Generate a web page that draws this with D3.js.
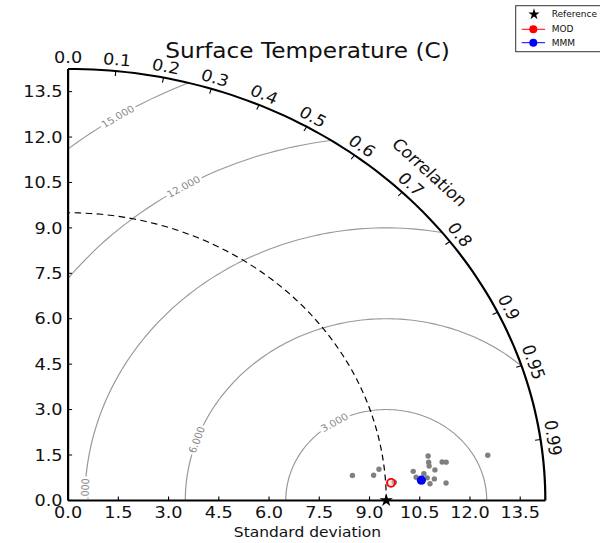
<!DOCTYPE html>
<html><head><meta charset="utf-8">
<script src="https://cdn.jsdelivr.net/npm/d3@7"></script>
<style>body{margin:0;background:#fff} text{font-family:"DejaVu Sans",sans-serif}</style>
</head>
<body><svg id="c" width="600" height="543"></svg>
<script>
// ---------- data ----------
const title = "Surface Temperature (C)";
const xLabel = "Standard deviation";
const corrLabel = "Correlation";
const stdTicks = [0, 1.5, 3.0, 4.5, 6.0, 7.5, 9.0, 10.5, 12.0, 13.5];
const corrTicks = [0, 0.1, 0.2, 0.3, 0.4, 0.5, 0.6, 0.7, 0.8, 0.9, 0.95, 0.99];
const rmsLevels = [3, 6, 9, 12, 15];
const refStd = 9.5;
const modelStd  = [8.53, 9.16, 9.34, 9.76, 10.35, 10.42, 10.66, 10.85, 10.84, 10.84, 11.00, 10.96, 10.82, 11.24, 11.36, 11.30, 12.62, 10.75];
const modelCorr = [0.9953, 0.9959, 0.9939, 0.9981, 0.9957, 0.9973, 0.9966, 0.9908, 0.9932, 0.9945, 0.9958, 0.9979, 0.9987, 0.9936, 0.9938, 0.9987, 0.9930, 0.9976];
const modStd = [9.66], modCorr = [0.9982];
const mmmStd = [10.57], mmmCorr = [0.9980];
const legendNames = ["Reference", "MOD", "MMM"];

// ---------- layout ----------
const SX = 1.106;               // horizontal stretch of the picture
const rmax = 14.25, k = 30.28, ox = 61.57, oy = 500.4;
const svg = d3.select("#c");
const g = svg.append("g").attr("transform", `scale(${SX},1)`);
const x = d3.scaleLinear().domain([0, rmax]).range([ox, ox + rmax * k]);
const y = d3.scaleLinear().domain([0, rmax]).range([oy, oy - rmax * k]);
const P = (r, t) => [x(r * Math.cos(t)), y(r * Math.sin(t))];
const line = d3.line();

// clip quarter disk
const quarter = [[x(0), y(0)]].concat(d3.range(0, 91).map(d => P(rmax, d * Math.PI / 180)));
g.append("clipPath").attr("id", "qc").append("path").attr("d", line(quarter) + "Z");

// RMS contours
const cg = g.append("g").attr("clip-path", "url(#qc)");
rmsLevels.forEach(L => {
  const pts = d3.range(0, 181).map(d => {
    const a = d * Math.PI / 180;
    return [x(refStd + L * Math.cos(a)), y(L * Math.sin(a))];
  });
  cg.append("path").attr("d", line(pts)).attr("fill", "none").attr("stroke", "#999").attr("stroke-width", 1.1);
});
const labelAngle = {3: 121, 6: 160.5, 9: 178.2, 12: 120.3, 15: 122.3};
rmsLevels.forEach(L => {
  const a = labelAngle[L] * Math.PI / 180;
  const px = x(refStd + L * Math.cos(a)), py = y(L * Math.sin(a));
  cg.append("text").attr("transform", `translate(${px},${py}) rotate(${-(labelAngle[L] - 90)})`)
    .attr("text-anchor", "middle").attr("dominant-baseline", "central")
    .attr("font-size", 9.5).attr("fill", "#8a8a8a")
    .attr("stroke", "#fff").attr("stroke-width", 5).attr("paint-order", "stroke")
    .text(L.toFixed(3));
});

// reference dashed arc
g.append("path").attr("d", line(d3.range(0, 91).map(d => P(refStd, d * Math.PI / 180))))
  .attr("fill", "none").attr("stroke", "#000").attr("stroke-width", 1.1).attr("stroke-dasharray", "6,4");

// axes
g.append("path").attr("d", line(d3.range(0, 91).map(d => P(rmax, d * Math.PI / 180))))
  .attr("fill", "none").attr("stroke", "#000").attr("stroke-width", 2);
g.append("line").attr("x1", x(0)).attr("y1", y(0)).attr("x2", x(rmax)).attr("y2", y(0)).attr("stroke", "#000").attr("stroke-width", 2);
g.append("line").attr("x1", x(0)).attr("y1", y(0)).attr("x2", x(0)).attr("y2", y(rmax)).attr("stroke", "#000").attr("stroke-width", 2);

stdTicks.forEach(t => {
  g.append("line").attr("x1", x(t)).attr("x2", x(t)).attr("y1", y(0)).attr("y2", y(0) - 4).attr("stroke", "#000");
  g.append("line").attr("y1", y(t)).attr("y2", y(t)).attr("x1", x(0)).attr("x2", x(0) + 4 / SX).attr("stroke", "#000");
  g.append("text").attr("x", x(t)).attr("y", y(0) + 18).attr("text-anchor", "middle")
    .attr("font-size", 16).attr("fill", "#111").text(t.toFixed(1));
  g.append("text").attr("x", x(0) - 5).attr("y", y(t)).attr("text-anchor", "end").attr("dominant-baseline", "central")
    .attr("font-size", 16).attr("fill", "#111").text(t.toFixed(1));
});

corrTicks.forEach(c => {
  const t = Math.acos(c);
  const a = P(rmax, t), b = P(rmax - 5 / k, t), l = P(rmax + 11.5 / k, t);
  g.append("line").attr("x1", a[0]).attr("y1", a[1]).attr("x2", b[0]).attr("y2", b[1]).attr("stroke", "#000");
  g.append("text").attr("transform", `translate(${l[0]},${l[1]}) rotate(${90 - t * 180 / Math.PI})`)
    .attr("text-anchor", "middle").attr("dominant-baseline", "central")
    .attr("font-size", 16).attr("fill", "#111").text(String(c === 0 ? "0.0" : c));
});

// axis titles
const cl = P(15.3, 45.1 * Math.PI / 180);
g.append("text").attr("transform", `translate(${cl[0]},${cl[1]}) rotate(45)`)
  .attr("text-anchor", "middle").attr("dominant-baseline", "central").attr("font-size", 16).attr("fill", "#111").text(corrLabel);
g.append("text").attr("x", 278).attr("y", 537).attr("text-anchor", "middle").attr("font-size", 14).attr("fill", "#111").text(xLabel);
g.append("text").attr("x", 278).attr("y", 58).attr("text-anchor", "middle").attr("font-size", 21).attr("fill", "#111").text(title);

// points
const pg = g.append("g");
modelStd.forEach((s, i) => {
  const p = P(s, Math.acos(modelCorr[i]));
  pg.append("ellipse").attr("cx", p[0]).attr("cy", p[1]).attr("rx", 2.7 / SX).attr("ry", 2.7).attr("fill", "#808080");
});
modStd.forEach((s, i) => {
  const p = P(s, Math.acos(modCorr[i]));
  pg.append("ellipse").attr("cx", p[0]).attr("cy", p[1]).attr("rx", 4 / SX).attr("ry", 4).attr("fill", "#f3c9c9").attr("fill-opacity", 0.5).attr("stroke", "red").attr("stroke-width", 1.8);
});
mmmStd.forEach((s, i) => {
  const p = P(s, Math.acos(mmmCorr[i]));
  pg.append("ellipse").attr("cx", p[0]).attr("cy", p[1]).attr("rx", 4.6 / SX).attr("ry", 4.6).attr("fill", "blue");
});
const rp = P(refStd, 0);
pg.append("path").attr("d", d3.symbol(d3.symbolStar, 55)()).attr("transform", `translate(${rp[0]},${rp[1]}) scale(${1 / SX},1)`).attr("fill", "#000");

// legend
const lg = svg.append("g");
lg.append("rect").attr("x", 515.7).attr("y", 5.7).attr("width", 120).attr("height", 46).attr("fill", "#fff").attr("stroke", "#333").attr("stroke-width", 1);
const ly = [14.3, 29.3, 42.7];
lg.append("path").attr("d", d3.symbol(d3.symbolStar, 40)()).attr("transform", `translate(534,${ly[0]})`).attr("fill", "#000");
[["red", ly[1]], ["blue", ly[2]]].forEach(([col, yy]) => {
  lg.append("line").attr("x1", 521.7).attr("x2", 545).attr("y1", yy).attr("y2", yy).attr("stroke", col).attr("stroke-width", 1);
  lg.append("circle").attr("cx", 533.3).attr("cy", yy).attr("r", 4).attr("fill", col);
});
legendNames.forEach((n, i) => {
  lg.append("text").attr("x", 551.7).attr("y", ly[i]).attr("dominant-baseline", "central").attr("font-size", 9).attr("fill", "#111").text(n);
});
</script>
</body></html>
